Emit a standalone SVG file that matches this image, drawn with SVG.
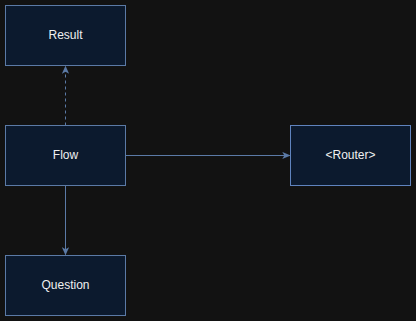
<svg xmlns="http://www.w3.org/2000/svg" width="416" height="321" viewBox="0 0 416 321">
  <style>
    .node rect { fill: #0c1a2e; stroke: #5b7aa6; stroke-width: 1; }
    .node text { fill: #f0f0f0; font-family: "Liberation Sans", Arial, sans-serif; font-size: 12px; text-anchor: middle; dominant-baseline: central; }
    .edge { fill: none; stroke: #5b7aa6; stroke-width: 1; }
    .dashed { stroke-dasharray: 3 3; }
  </style>
  <defs>
    <marker id="arrow" viewBox="0 0 10 10" refX="9" refY="5" markerWidth="8" markerHeight="8" markerUnits="userSpaceOnUse" orient="auto">
      <path d="M0,0.5 L10,5 L0,9.5 L2.5,5 Z" fill="#5b7aa6"/>
    </marker>
  </defs>
  <rect width="416" height="321" fill="#121212"/>
  <g id="connectors">
    <path class="edge dashed" d="M65.5,125.5 L65.5,66.5" marker-end="url(#arrow)"/>
    <path class="edge" d="M125.5,155.5 L289.5,155.5" marker-end="url(#arrow)"/>
    <path class="edge" d="M65.5,185.5 L65.5,254.5" marker-end="url(#arrow)"/>
  </g>
  <g id="node-result" class="node">
    <rect x="5.5" y="5.5" width="120" height="60"/>
    <text x="65.5" y="34.5">Result</text>
  </g>
  <g id="node-flow" class="node">
    <rect x="5.5" y="125.5" width="120" height="60"/>
    <text x="65.5" y="154.5">Flow</text>
  </g>
  <g id="node-router" class="node">
    <rect x="290.5" y="125.5" width="120" height="60" style="stroke:#5f83be"/>
    <text x="350.5" y="154.5">&lt;Router&gt;</text>
  </g>
  <g id="node-question" class="node">
    <rect x="5.5" y="255.5" width="120" height="60"/>
    <text x="65.5" y="284.5">Question</text>
  </g>
</svg>
